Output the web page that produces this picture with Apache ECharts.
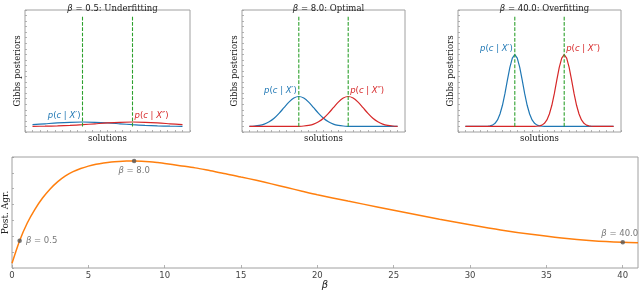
<!DOCTYPE html>
<html><head><meta charset="utf-8">
<script src="https://cdn.jsdelivr.net/npm/echarts@6/dist/echarts.min.js"></script>
<style>html,body{margin:0;padding:0;background:#fff}#c{width:640px;height:290px}</style>
</head><body><div id="c"></div>
<script>
// ---- data ----
const betaSel = [0.5, 8.0, 40.0];
const regimes = ['Underfitting', 'Optimal', 'Overfitting'];
const dataMarks = [-1, 1];          // green dashed positions
const vlineTop = 1.0;

const xs05 = [-3,-2.5,-2,-1.5,-1,-0.5,0,0.5,1,1.5,2,2.5,3];
const blue05 = [0.016,0.024,0.032,0.0375,0.040,0.0375,0.032,0.024,0.016,0.010,0.0054,0.0026,0.0011];
const red05  = [0.0011,0.0026,0.0054,0.010,0.016,0.024,0.032,0.0375,0.040,0.0375,0.032,0.024,0.016];

const xs8 = [-3,-2.8,-2.6,-2.4,-2.2,-2,-1.8,-1.6,-1.4,-1.2,-1,-0.8,-0.6,-0.4,-0.2,0,0.2,0.4,0.6,0.8,1,1.2,1.4,1.6,1.8,2,2.2,2.4,2.6,2.8,3];
const blue8 = [0.0015,0.004,0.0097,0.021,0.042,0.074,0.118,0.169,0.219,0.256,0.270,0.256,0.219,0.169,0.118,0.074,0.042,0.021,0.0097,0.004,0.0015,0.0005,0,0,0,0,0,0,0,0,0];
const red8  = [0,0,0,0,0,0,0,0,0,0.0005,0.0015,0.004,0.0097,0.021,0.042,0.074,0.118,0.169,0.219,0.256,0.270,0.256,0.219,0.169,0.118,0.074,0.042,0.021,0.0097,0.004,0.0015];

const blue40 = [[-3,0],[-2.3,0],[-2.2,0.001],[-2.1,0.002],[-2,0.005],[-1.9,0.012],[-1.8,0.028],[-1.7,0.059],[-1.6,0.112],[-1.5,0.191],[-1.4,0.296],[-1.3,0.417],[-1.2,0.532],[-1.1,0.616],[-1,0.647],[-0.9,0.616],[-0.8,0.532],[-0.7,0.417],[-0.6,0.296],[-0.5,0.191],[-0.4,0.112],[-0.3,0.059],[-0.2,0.028],[-0.1,0.012],[0,0.005],[0.1,0.002],[0.2,0.001],[0.3,0],[3,0]];
const red40 = [[-3,0],[-0.3,0],[-0.2,0.001],[-0.1,0.002],[0,0.005],[0.1,0.012],[0.2,0.028],[0.3,0.059],[0.4,0.112],[0.5,0.191],[0.6,0.296],[0.7,0.417],[0.8,0.532],[0.9,0.616],[1,0.647],[1.1,0.616],[1.2,0.532],[1.3,0.417],[1.4,0.296],[1.5,0.191],[1.6,0.112],[1.7,0.059],[1.8,0.028],[1.9,0.012],[2,0.005],[2.1,0.002],[2.2,0.001],[2.3,0],[3,0]];

const betaGrid = [0,0.5,1,1.5,2,2.5,3,3.5,4,4.5,5,5.5,6,6.5,7,7.5,8,8.5,9,9.5,10,11,12,13,14,15,16,17,18,19,20,22,24,26,28,30,32,34,36,38,40,41];
const postAgr  = [0.042,0.246,0.405,0.528,0.630,0.712,0.778,0.830,0.868,0.896,0.918,0.934,0.946,0.955,0.960,0.963,0.964,0.962,0.957,0.950,0.942,0.922,0.902,0.876,0.850,0.820,0.790,0.758,0.725,0.692,0.660,0.603,0.548,0.494,0.440,0.390,0.343,0.303,0.270,0.246,0.231,0.228];
const markBetas = [0.5, 8.0, 40.0];
const markVals  = [0.246, 0.964, 0.231];
const betaTicks = [0,5,10,15,20,25,30,35,40];

// ---- build ----
const pair = (xs, ys) => xs.map((x, i) => [x, ys[i]]);
const panels = [
  {blue: pair(xs05, blue05), red: pair(xs05, red05), smooth: 0.3},
  {blue: pair(xs8, blue8),   red: pair(xs8, red8),   smooth: 0.3},
  {blue: blue40,             red: red40,             smooth: false}
];
const BLUE = '#1f77b4', RED = '#d62728', GREEN = '#2ca02c', ORANGE = '#ff7f0e';
const FRAME = '#a0a0a0', TXT = '#222';
const SERIF = 'DejaVu Serif', SANS = 'DejaVu Sans';
const FS = 8.5;

const gridsTop = [
  {left: 25, top: 10, width: 165, height: 122},
  {left: 242, top: 10, width: 163, height: 122},
  {left: 458, top: 10, width: 163, height: 122}
];
const gridBase = {show: true, borderColor: FRAME, borderWidth: 1, backgroundColor: 'transparent',
  containLabel: false, outerBoundsMode: 'none'};
const grid = gridsTop.map(g => Object.assign({}, gridBase, g));
grid.push(Object.assign({}, gridBase, {left: 12, top: 157, width: 626, height: 111}));

const tick = (len) => ({show: true, inside: true, length: len, lineStyle: {color: FRAME, width: 0.8}});
const noLine = {show: false, onZero: false};

const xAxis = [], yAxis = [], series = [], title = [];
const labelRich = (color) => ({
  i: {fontFamily: SANS, fontStyle: 'italic', fontSize: FS, color},
  u: {fontFamily: SANS, fontSize: FS, color}
});
const pLabel = (prime) => `{i|p}{u|(}{i|c}{u| | }{i|X${prime}}{u|)}`;

panels.forEach((p, i) => {
  xAxis.push({type: 'value', gridIndex: i, min: -3.3, max: 3.3, interval: 0.3, position: 'bottom',
    axisLine: noLine, axisTick: tick(2), axisLabel: {show: false}, splitLine: {show: false},
    name: 'solutions', nameLocation: 'middle', nameGap: 2,
    nameTextStyle: {fontFamily: SERIF, fontSize: FS, color: TXT, verticalAlign: 'top'}});
  yAxis.push({type: 'value', gridIndex: i, min: -0.05, max: 1.05, interval: 0.05, position: 'left',
    axisLine: noLine, axisTick: tick(2), axisLabel: {show: false}, splitLine: {show: false},
    name: 'Gibbs posteriors', nameLocation: 'middle', nameGap: 3, nameRotate: 90,
    nameTextStyle: {fontFamily: SERIF, fontSize: FS, color: TXT}});
  const cx = gridsTop[i].left + gridsTop[i].width / 2;
  title.push({text: `{b|β}{m| = ${betaSel[i].toFixed(1)}}{s|: ${regimes[i]}}`, left: cx, top: -1, textAlign: 'center',
    textStyle: {fontSize: FS, fontFamily: SERIF, color: TXT, fontWeight: 'normal',
      rich: {b: {fontFamily: SANS, fontStyle: 'italic', fontSize: FS, color: TXT},
             m: {fontFamily: SANS, fontSize: FS, color: TXT},
             s: {fontFamily: SERIF, fontSize: FS, color: TXT}}}});
  const peakOf = (d) => d.reduce((a, b) => (b[1] > a[1] ? b : a));
  const pb = peakOf(p.blue), pr = peakOf(p.red);
  series.push({type: 'line', xAxisIndex: i, yAxisIndex: i, data: p.blue, smooth: p.smooth, showSymbol: false, symbol: 'none',
    lineStyle: {color: BLUE, width: 1.2}, itemStyle: {color: BLUE}, silent: true, z: 2,
    markPoint: {symbol: 'circle', symbolSize: 0, silent: true, data: [{coord: pb}],
      label: {show: true, position: 'left', distance: 2, offset: [0, -6], formatter: pLabel('′'), rich: labelRich(BLUE)}}});
  series.push({type: 'line', xAxisIndex: i, yAxisIndex: i, data: p.red, smooth: p.smooth, showSymbol: false, symbol: 'none',
    lineStyle: {color: RED, width: 1.2}, itemStyle: {color: RED}, silent: true, z: 3,
    markPoint: {symbol: 'circle', symbolSize: 0, silent: true, data: [{coord: pr}],
      label: {show: true, position: 'right', distance: 2, offset: [0, -6], formatter: pLabel('″'), rich: labelRich(RED)}}});
  dataMarks.forEach(m => {
    series.push({type: 'line', xAxisIndex: i, yAxisIndex: i, data: [[m, 0], [m, vlineTop]], showSymbol: false, symbol: 'none',
      lineStyle: {color: GREEN, width: 1.1, type: [3.7, 1.6]}, silent: true, z: 4});
  });
});

// bottom panel
xAxis.push({type: 'value', gridIndex: 3, min: 0, max: 41, interval: 5, position: 'bottom',
  axisLine: noLine, axisTick: tick(3), splitLine: {show: false},
  axisLabel: {margin: 3, fontSize: FS, fontFamily: SANS, color: '#444', showMaxLabel: false,
    formatter: v => (betaTicks.indexOf(v) >= 0 ? String(v) : '')},
  name: 'β', nameLocation: 'middle', nameGap: 11,
  nameTextStyle: {fontFamily: SANS, fontStyle: 'italic', fontSize: 10, color: TXT, verticalAlign: 'top'}});
yAxis.push({type: 'value', gridIndex: 3, min: 0, max: 1, interval: 1 / 7, position: 'left',
  axisLine: noLine, axisTick: tick(2), axisLabel: {show: false}, splitLine: {show: false},
  name: 'Post. Agr.', nameLocation: 'middle', nameGap: 2, nameRotate: 90,
  nameTextStyle: {fontFamily: SERIF, fontSize: 9, color: TXT}});

series.push({type: 'line', xAxisIndex: 3, yAxisIndex: 3, data: pair(betaGrid, postAgr), smooth: 0.3,
  showSymbol: false, symbol: 'none', lineStyle: {color: ORANGE, width: 1.5}, silent: true, z: 2});

const markPos = [
  {position: 'right', distance: 4, offset: [0, 0]},
  {position: 'bottom', distance: 3, offset: [0, 0]},
  {position: 'top', distance: 2, offset: [-3, 0]}
];
series.push({type: 'scatter', xAxisIndex: 3, yAxisIndex: 3, symbolSize: 4.5, silent: true, z: 5,
  itemStyle: {color: '#555'},
  data: markBetas.map((b, k) => ({value: [b, markVals[k]],
    label: Object.assign({show: true, formatter: `{b|β}{n| = ${b.toFixed(1)}}`,
      rich: {b: {fontFamily: SANS, fontStyle: 'italic', fontSize: FS, color: '#555'},
             n: {fontFamily: SANS, fontSize: FS, color: '#555'}}}, markPos[k])}))});

const chart = echarts.init(document.getElementById('c'));
chart.setOption({animation: false, backgroundColor: '#fff', title, grid, xAxis, yAxis, series});
</script>
</body></html>
